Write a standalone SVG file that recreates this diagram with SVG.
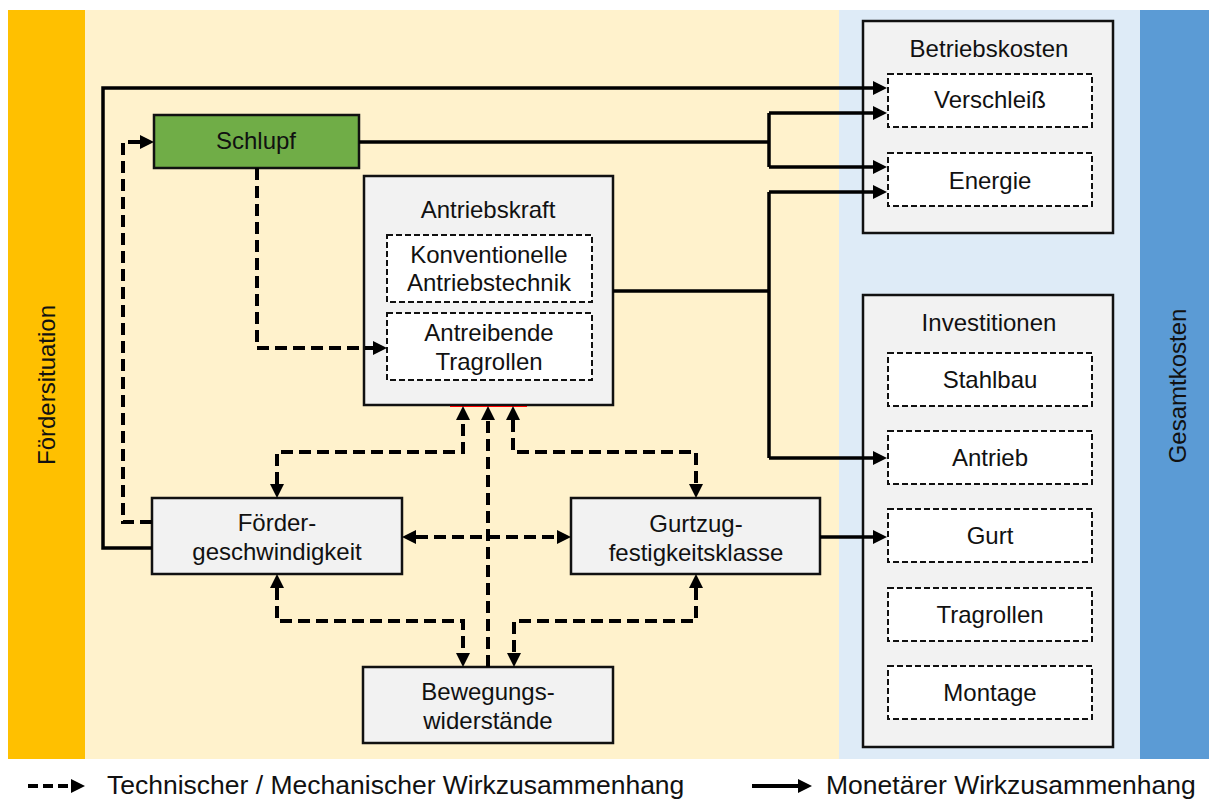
<svg xmlns="http://www.w3.org/2000/svg" width="1210" height="799" viewBox="0 0 1210 799">
<style>
text{font-family:"Liberation Sans",Arial,Helvetica,sans-serif;font-size:24px;fill:#111;text-anchor:middle}
.box{fill:#F2F2F2;stroke:#111;stroke-width:2.5}
.sub{fill:#FFFFFF;stroke:#111;stroke-width:2;stroke-dasharray:6 3}
.tech{fill:none;stroke:#000;stroke-width:4;stroke-dasharray:12 6}
.mon{fill:none;stroke:#000;stroke-width:3.5}
.leg{font-size:26.5px;text-anchor:start}
</style>
<defs>
<marker id="ah" viewBox="0 0 14 14" refX="0" refY="7" markerWidth="14" markerHeight="14" markerUnits="userSpaceOnUse" orient="auto-start-reverse">
<path d="M0,0 L14,7 L0,14 Z" fill="#000"/>
</marker>
</defs>
<rect width="1210" height="799" fill="#FFFFFF"/>
<g id="bands">
<rect x="8" y="10" width="77" height="749" fill="#FFC000"/>
<rect x="85" y="10" width="754" height="749" fill="#FFF2CC"/>
<rect x="839" y="10" width="301" height="749" fill="#DEEBF7"/>
<rect x="1140" y="10" width="69" height="749" fill="#5B9BD5"/>
<text transform="translate(55,385) rotate(-90)">Fördersituation</text>
<text transform="translate(1186,386) rotate(-90)">Gesamtkosten</text>
</g>
<g id="schlupf">
<rect x="154" y="115" width="205" height="53" fill="#70AD47" stroke="#111" stroke-width="2.5"/>
<text x="256" y="149">Schlupf</text>
</g>
<g id="antriebskraft">
<rect class="box" x="364" y="176" width="249" height="229"/>
<text x="488" y="218">Antriebskraft</text>
<rect class="sub" x="387" y="235" width="205" height="67"/>
<text x="489" y="263">Konventionelle</text>
<text x="489" y="291">Antriebstechnik</text>
<rect class="sub" x="387" y="313" width="205" height="67"/>
<text x="489" y="341">Antreibende</text>
<text x="489" y="370">Tragrollen</text>
</g>
<line x1="450" y1="406.5" x2="527" y2="406.5" stroke="#FF0000" stroke-width="1.2"/>
<g id="foerdergeschwindigkeit">
<rect class="box" x="152" y="498" width="250" height="76"/>
<text x="277" y="531">Förder-</text>
<text x="277" y="560">geschwindigkeit</text>
</g>
<g id="gurtzug">
<rect class="box" x="571" y="498" width="249" height="76"/>
<text x="696" y="532">Gurtzug-</text>
<text x="696" y="561">festigkeitsklasse</text>
</g>
<g id="bewegung">
<rect class="box" x="363" y="667" width="250" height="76"/>
<text x="488" y="700">Bewegungs-</text>
<text x="488" y="729">widerstände</text>
</g>
<g id="betriebskosten">
<rect class="box" x="863" y="21" width="250" height="212"/>
<text x="989" y="57">Betriebskosten</text>
<rect class="sub" x="888" y="74" width="204" height="53"/>
<text x="990" y="108">Verschleiß</text>
<rect class="sub" x="888" y="153" width="204" height="53"/>
<text x="990" y="189">Energie</text>
</g>
<g id="investitionen">
<rect class="box" x="863" y="295" width="250" height="452"/>
<text x="989" y="331">Investitionen</text>
<rect class="sub" x="888" y="353" width="204" height="53"/>
<text x="990" y="388">Stahlbau</text>
<rect class="sub" x="888" y="431" width="204" height="53"/>
<text x="990" y="466">Antrieb</text>
<rect class="sub" x="888" y="509" width="204" height="53"/>
<text x="990" y="544">Gurt</text>
<rect class="sub" x="888" y="588" width="204" height="53"/>
<text x="990" y="623">Tragrollen</text>
<rect class="sub" x="888" y="666" width="204" height="53"/>
<text x="990" y="701">Montage</text>
</g>
<g id="connectors">
<path class="mon" d="M152,548 H103 V88 H873" marker-end="url(#ah)"/>
<path class="tech" d="M152,522 H123 V142 H140" marker-end="url(#ah)"/>
<path class="tech" d="M257,168 V348 H373" marker-end="url(#ah)"/>
<path class="mon" d="M359,142 H769"/>
<path class="mon" d="M769,113 V167"/>
<path class="mon" d="M769,113 H873" marker-end="url(#ah)"/>
<path class="mon" d="M769,167 H873" marker-end="url(#ah)"/>
<path class="mon" d="M613,291 H769"/>
<path class="mon" d="M769,192 V458"/>
<path class="mon" d="M769,192 H873" marker-end="url(#ah)"/>
<path class="mon" d="M769,458 H873" marker-end="url(#ah)"/>
<path class="mon" d="M820,537 H873" marker-end="url(#ah)"/>
<path class="tech" d="M277,484 V452 H463 V420" marker-start="url(#ah)" marker-end="url(#ah)"/>
<path class="tech" d="M513,420 V452 H696 V484" marker-start="url(#ah)" marker-end="url(#ah)"/>
<path class="tech" d="M416,537 H557" marker-start="url(#ah)" marker-end="url(#ah)"/>
<path class="tech" d="M488,667 V420" marker-end="url(#ah)"/>
<path class="tech" d="M277,588 V621 H463 V653" marker-start="url(#ah)" marker-end="url(#ah)"/>
<path class="tech" d="M696,588 V621 H514 V653" marker-start="url(#ah)" marker-end="url(#ah)"/>
</g>
<g id="legend">
<path d="M28,786 H71" fill="none" stroke="#000" stroke-width="4" stroke-dasharray="10 5" marker-end="url(#ah)"/>
<text class="leg" x="107" y="794">Technischer / Mechanischer Wirkzusammenhang</text>
<path d="M752,786 H798" fill="none" stroke="#000" stroke-width="4" marker-end="url(#ah)"/>
<text class="leg" x="826" y="794">Monetärer Wirkzusammenhang</text>
</g>
</svg>
